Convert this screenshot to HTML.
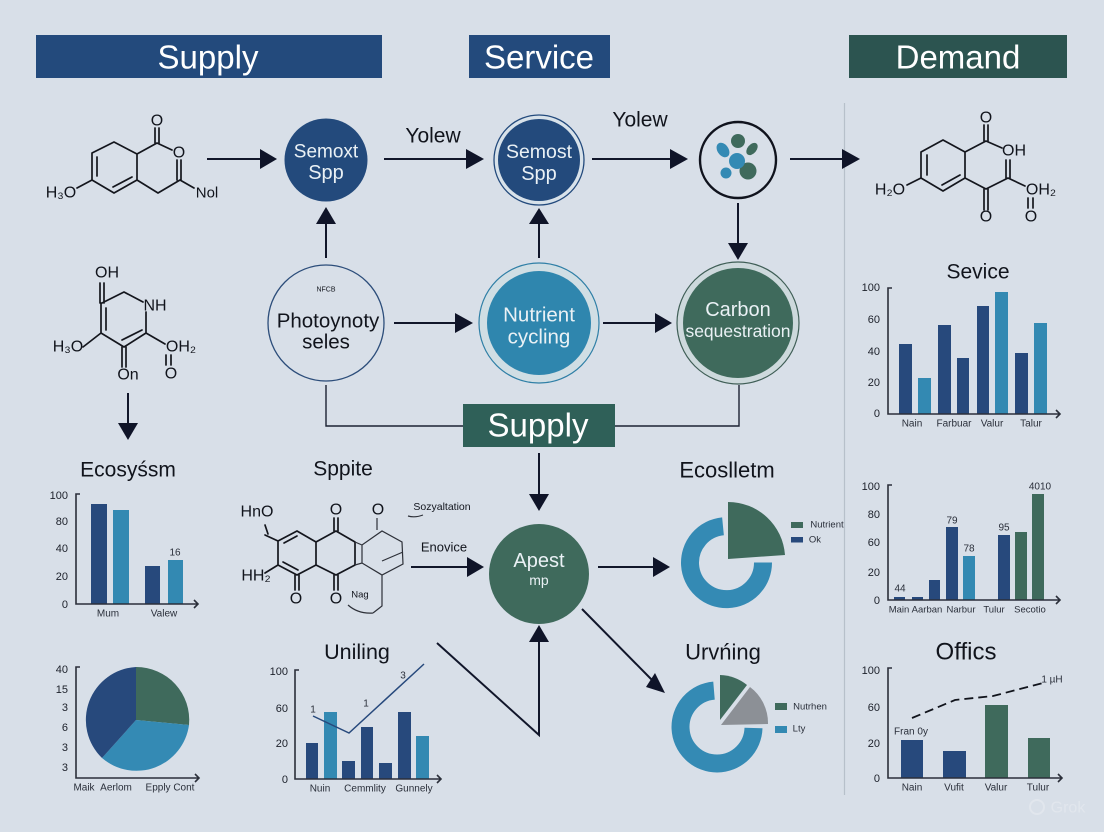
<!DOCTYPE html>
<html><head><meta charset="utf-8"><style>
html,body{margin:0;padding:0;background:#d8dfe8}
svg{display:block}
text{font-family:"Liberation Sans",sans-serif;dominant-baseline:central;text-anchor:middle;fill:#11141c}
.w{fill:#eaf1f5}
.s{font-size:10px;fill:#2a2f3a}
.a{font-size:11px;fill:#1c202a;text-anchor:end}
.m{font-size:16px}
.mol{fill:none;stroke:#14161d;stroke-width:1.7;stroke-linecap:round;stroke-linejoin:round}
.ax{fill:none;stroke:#2b2f3a;stroke-width:1.6}
.c{stroke:#11162a;stroke-width:2;fill:none}
.h{fill:#0f1428}
.d{fill:#27497c}.l{fill:#3389b2}.g{fill:#3f6a5c}
</style></head><body>
<svg width="1104" height="832" viewBox="0 0 1104 832" xmlns="http://www.w3.org/2000/svg">
<rect width="1104" height="832" fill="#d8dfe8"/>
<line x1="844.5" y1="103" x2="844.5" y2="795" stroke="#b7c0ca" stroke-width="1.2"/>

<!-- headers -->
<rect x="36" y="35" width="346" height="43" fill="#234a7c"/>
<text x="208" y="57" style="font-size:33px;fill:#fff">Supply</text>
<rect x="469" y="35" width="141" height="43" fill="#234a7c"/>
<text x="539" y="57" style="font-size:33px;fill:#fff">Service</text>
<rect x="849" y="35" width="218" height="43" fill="#2c5450"/>
<text x="958" y="57" style="font-size:33px;fill:#fff">Demand</text>

<!-- molecule 1 -->
<path class="mol" d="M92 153L114 142L137 154V180L114 193L92 180ZM97 157V176M113 187L132 177M137 154L157 143L172 150M155 143V128M159 143V128M177 160V180M181 160V180M180 180L158 193L137 180M180 180L194 188M77 188L92 180"/>
<text x="157" y="121" class="m">O</text><text x="179" y="153" class="m">O</text>
<text x="61" y="193" class="m">H₃O</text><text x="207" y="193" class="m" style="font-size:15px">Nol</text>

<!-- molecule 2 -->
<path class="mol" d="M102 303L124 292L143 302M146 312V333L124 347L101 333V303M100 303V283M104 303V283M106 308V330M122 340L142 330M83 347L101 333M122 347V367M126 347V367M146 333L165 344M166 355V365M171 355V365"/>
<text x="107" y="273" class="m">OH</text><text x="155" y="306" class="m">NH</text><text x="68" y="347" class="m">H₃O</text>
<text x="128" y="375" class="m">On</text><text x="181" y="347" class="m">OH₂</text><text x="171" y="374" class="m">O</text>

<!-- molecule 3 -->
<path class="mol" d="M921 152L943 140L965 152V178L943 191L921 178ZM927 155V175M942 185L960 175M965 152L986 141L1002 148M984 141V125M988 141V125M965 178L986 189L1008 178L1025 186M984 189V210M988 189V210M1006 178V160M1010 178V160M907 185L921 178M1028 198V208M1033 198V208"/>
<text x="986" y="118" class="m">O</text><text x="1014" y="151" class="m">OH</text><text x="986" y="217" class="m">O</text>
<text x="1041" y="190" class="m">OH₂</text><text x="1031" y="217" class="m">O</text><text x="890" y="190" class="m">H₂O</text>

<!-- connectors -->
<path class="c" d="M207 159H262"/><polygon class="h" points="260,149 277,159 260,169"/>
<path class="c" d="M384 159H468"/><polygon class="h" points="466,149 484,159 466,169"/>
<path class="c" d="M592 159H672"/><polygon class="h" points="670,149 688,159 670,169"/>
<path class="c" d="M790 159H844"/><polygon class="h" points="842,149 860,159 842,169"/>
<path class="c" d="M326 258V222"/><polygon class="h" points="316,224 326,207 336,224"/>
<path class="c" d="M539 258V222"/><polygon class="h" points="529,224 539,208 549,224"/>
<path class="c" d="M738 203V245"/><polygon class="h" points="728,243 738,260 748,243"/>
<path class="c" d="M394 323H457"/><polygon class="h" points="455,313 473,323 455,333"/>
<path class="c" d="M603 323H657"/><polygon class="h" points="655,313 672,323 655,333"/>
<path class="c" d="M128 393V425"/><polygon class="h" points="118,423 128,440 138,423"/>
<path d="M326 385V426H463M615 426H739V385" fill="none" stroke="#1c2233" stroke-width="1.4"/>
<path class="c" d="M539 453V496"/><polygon class="h" points="529,494 539,511 549,494"/>
<path class="c" d="M411 567H469"/><polygon class="h" points="467,557 484,567 467,577"/>
<path class="c" d="M598 567H655"/><polygon class="h" points="653,557 670,567 653,577"/>
<path class="c" d="M582 609L652 680"/><polygon class="h" points="665,693 655,673 646,687"/>
<path class="c" d="M437 643L539 735V640"/><polygon class="h" points="529,642 539,625 549,642"/>

<text x="433" y="136" style="font-size:21px">Yolew</text>
<text x="640" y="120" style="font-size:21px">Yolew</text>

<!-- nodes -->
<circle cx="326" cy="160" r="41.5" fill="#234a7c"/>
<text x="326" y="152" class="w" style="font-size:19px">Semoxt</text><text x="326" y="173" class="w" style="font-size:20px">Spp</text>
<circle cx="539" cy="160" r="45" fill="#d8e2ea" stroke="#234a7c" stroke-width="1.3"/>
<circle cx="539" cy="160" r="41" fill="#234a7c"/>
<text x="539" y="152" class="w" style="font-size:19.500px">Semost</text><text x="539" y="174" class="w" style="font-size:20px">Spp</text>
<circle cx="738" cy="160" r="38" fill="#d8dfe8" stroke="#10131d" stroke-width="2.4"/>
<circle cx="738" cy="141" r="7" fill="#3f6a5c"/>
<ellipse cx="723" cy="150" rx="5.5" ry="8" fill="#348ab4" transform="rotate(-35 723 150)"/>
<ellipse cx="752" cy="149" rx="4.5" ry="7" fill="#3f6a5c" transform="rotate(40 752 149)"/>
<circle cx="726" cy="173" r="5.5" fill="#348ab4"/>
<circle cx="748" cy="171" r="8.5" fill="#3f6a5c"/>
<circle cx="737" cy="161" r="8" fill="#348ab4"/>

<circle cx="326" cy="323" r="58" fill="none" stroke="#2c4d7a" stroke-width="1.3"/>
<text x="326" y="290" style="font-size:7px">NFCB</text>
<text x="328" y="321" style="font-size:20.5px">Photoynoty</text><text x="326" y="342" style="font-size:20.5px">seles</text>

<circle cx="539" cy="323" r="60" fill="#d0dee4" stroke="#2f7fa6" stroke-width="1.2"/>
<circle cx="539" cy="323" r="52" fill="#2f86ae"/>
<text x="539" y="315" class="w" style="font-size:20.5px">Nutrient</text><text x="539" y="337" class="w" style="font-size:20.5px">cycling</text>

<circle cx="738" cy="323" r="61" fill="#cdd9dc" stroke="#3f5e56" stroke-width="1.2"/>
<circle cx="738" cy="323" r="55" fill="#3f6a5c"/>
<text x="738" y="310" class="w" style="font-size:20px">Carbon</text><text x="738" y="331" class="w" style="font-size:17.5px">sequestration</text>

<rect x="463" y="404" width="152" height="43" fill="#2f6058"/>
<text x="538" y="425" style="font-size:33px;fill:#fff">Supply</text>

<circle cx="539" cy="574" r="50" fill="#3f6a5c"/>
<text x="539" y="561" class="w" style="font-size:20px">Apest</text><text x="539" y="580" class="w" style="font-size:14px">mp</text>

<!-- Sppite molecule -->
<text x="343" y="469" style="font-size:21px">Sppite</text>
<path class="mol" d="M278 541L297 531L316 542V565L297 575L278 565ZM284 543L297 536M283 562L298 570M316 542L336 531L355 542V565L336 575L316 565M334 531V518M338 531V518M295 575V590M299 575V590M334 575V590M338 575V590M265 535L278 541M265 573L278 565M265 525L268 534"/>
<path d="M355 542L362 545L382 531L402 542L403 564L382 575L362 563L355 565M362 545V563M382 561L403 552M382 575V606L373 613M348 605Q358 614 373 613M377 530V518M408 516Q415 518 423 515" fill="none" stroke="#2d3038" stroke-width="1.2"/>
<text x="257" y="512" class="m">HnO</text><text x="256" y="576" class="m">HH₂</text>
<text x="336" y="510" class="m">O</text><text x="378" y="510" class="m">O</text>
<text x="296" y="599" class="m">O</text><text x="336" y="599" class="m">O</text>
<text x="360" y="595" style="font-size:9.5px">Nag</text>
<text x="442" y="507" style="font-size:10.5px">Sozyaltation</text>
<text x="444" y="547" style="font-size:13px">Enovice</text>

<!-- Service chart -->
<text x="978" y="272" style="font-size:21px">Sevice</text>
<rect class="d" x="899" y="344" width="13" height="70"/><rect class="l" x="918" y="378" width="13" height="36"/>
<rect class="d" x="938" y="325" width="13" height="89"/><rect class="d" x="957" y="358" width="12" height="56"/>
<rect class="d" x="977" y="306" width="12" height="108"/><rect class="l" x="995" y="292" width="13" height="122"/>
<rect class="d" x="1015" y="353" width="13" height="61"/><rect class="l" x="1034" y="323" width="13" height="91"/>
<path class="ax" d="M892 288H888V414H1060M1056 410L1060 414L1056 418"/>
<text class="a" x="880" y="288">100</text><text class="a" x="880" y="320">60</text><text class="a" x="880" y="352">40</text><text class="a" x="880" y="383">20</text><text class="a" x="880" y="414">0</text>
<text class="s" x="912" y="424">Nain</text><text class="s" x="954" y="424">Farbuar</text><text class="s" x="992" y="424">Valur</text><text class="s" x="1031" y="424">Talur</text>

<!-- Right chart 2 -->
<rect class="d" x="894" y="597" width="11" height="3"/><rect class="d" x="912" y="597" width="11" height="3"/>
<rect class="d" x="929" y="580" width="11" height="20"/><rect class="d" x="946" y="527" width="12" height="73"/>
<rect class="l" x="963" y="556" width="12" height="44"/><rect class="d" x="998" y="535" width="12" height="65"/>
<rect class="g" x="1015" y="532" width="12" height="68"/><rect class="g" x="1032" y="494" width="12" height="106"/>
<path class="ax" d="M892 485H888V600H1060M1056 596L1060 600L1056 604"/>
<text class="a" x="880" y="487">100</text><text class="a" x="880" y="515">80</text><text class="a" x="880" y="543">60</text><text class="a" x="880" y="573">20</text><text class="a" x="880" y="601">0</text>
<text class="s" x="900" y="589">44</text><text class="s" x="952" y="521">79</text><text class="s" x="969" y="549">78</text><text class="s" x="1004" y="528">95</text><text class="s" x="1040" y="487">4010</text>
<text class="s" x="899" y="610" style="font-size:9.5px">Main</text><text class="s" x="927" y="610" style="font-size:9.5px">Aarban</text><text class="s" x="961" y="610" style="font-size:9.5px">Narbur</text><text class="s" x="994" y="610" style="font-size:9.5px">Tulur</text><text class="s" x="1030" y="610" style="font-size:9.5px">Secotio</text>

<!-- Offics -->
<text x="966" y="652" style="font-size:24px">Offics</text>
<rect class="d" x="901" y="740" width="22" height="38"/><rect class="d" x="943" y="751" width="23" height="27"/>
<rect class="g" x="985" y="705" width="23" height="73"/><rect class="g" x="1028" y="738" width="22" height="40"/>
<path class="ax" d="M892 668H888V778H1062M1058 774L1062 778L1058 782"/>
<path d="M912 718L955 700L993 696L1043 683" fill="none" stroke="#11141c" stroke-width="1.8" stroke-dasharray="9 5"/>
<text class="a" x="880" y="671">100</text><text class="a" x="880" y="708">60</text><text class="a" x="880" y="744">20</text><text class="a" x="880" y="779">0</text>
<text class="s" x="911" y="732">Fran 0y</text><text class="s" x="1052" y="680">1 µH</text>
<text class="s" x="912" y="788">Nain</text><text class="s" x="954" y="788">Vufit</text><text class="s" x="996" y="788">Valur</text><text class="s" x="1038" y="788">Tulur</text>

<!-- Left chart -->
<text x="128" y="470" style="font-size:21px">Ecosyśsm</text>
<rect class="d" x="91" y="504" width="16" height="100"/><rect class="l" x="113" y="510" width="16" height="94"/>
<rect class="d" x="145" y="566" width="15" height="38"/><rect class="l" x="168" y="560" width="15" height="44"/>
<path class="ax" d="M80 494H76V604H198M194 600L198 604L194 608"/>
<text class="a" x="68" y="496">100</text><text class="a" x="68" y="522">80</text><text class="a" x="68" y="549">40</text><text class="a" x="68" y="577">20</text><text class="a" x="68" y="605">0</text>
<text class="s" x="175" y="553">16</text><text class="s" x="108" y="614">Mum</text><text class="s" x="164" y="614">Valew</text>

<!-- Left pie -->
<path d="M136 720V667A53 53 0 0 1 189 725Z" class="g"/>
<path d="M136 720L189 725A53 53 0 0 1 102 758Z" fill="#348ab4"/>
<path d="M136 720L102 758A53 53 0 0 1 136 667Z" class="d"/>
<path class="ax" d="M80 667H76V778H199M195 774L199 778L195 782"/>
<text class="a" x="68" y="670">40</text><text class="a" x="68" y="690">15</text><text class="a" x="68" y="708">3</text><text class="a" x="68" y="728">6</text><text class="a" x="68" y="748">3</text><text class="a" x="68" y="768">3</text>
<text class="s" x="84" y="788">Maik</text><text class="s" x="116" y="788">Aerlom</text><text class="s" x="170" y="788">Epply Cont</text>

<!-- Uniling -->
<text x="357" y="652" style="font-size:21.5px">Uniling</text>
<rect class="d" x="306" y="743" width="12" height="36"/><rect class="l" x="324" y="712" width="13" height="67"/>
<rect class="d" x="342" y="761" width="13" height="18"/><rect class="d" x="361" y="727" width="12" height="52"/>
<rect class="d" x="379" y="763" width="13" height="16"/><rect class="d" x="398" y="712" width="13" height="67"/>
<rect class="l" x="416" y="736" width="13" height="43"/>
<path class="ax" d="M299 670H295V779H441M437 775L441 779L437 783"/>
<path d="M313 716L349 733L424 664" fill="none" stroke="#27497c" stroke-width="1.5"/>
<text class="a" x="288" y="672">100</text><text class="a" x="288" y="709">60</text><text class="a" x="288" y="744">20</text><text class="a" x="288" y="780">0</text>
<text class="s" x="313" y="710">1</text><text class="s" x="366" y="704">1</text><text class="s" x="403" y="676">3</text>
<text class="s" x="320" y="789">Nuin</text><text class="s" x="365" y="789">Cemmlity</text><text class="s" x="414" y="789">Gunnely</text>

<!-- Ecosl donut -->
<text x="727" y="470" style="font-size:22px">Ecoslletm</text>
<path d="M763 562.5A36.5 36.5 0 1 1 723 526.3" fill="none" stroke="#348ab4" stroke-width="18"/>
<path d="M728 559V502A57 57 0 0 1 785 555Z" class="g"/>
<rect class="g" x="791" y="522" width="12" height="6"/><text class="s" x="827" y="525" style="font-size:9.5px">Nutrient</text>
<rect class="d" x="791" y="537" width="12" height="5.5"/><text class="s" x="815" y="540" style="font-size:9.5px">Ok</text>

<!-- Urvning donut -->
<text x="723" y="652" style="font-size:22px">Urvńing</text>
<path d="M753.5 728A36.5 36.5 0 1 1 714 690.6" fill="none" stroke="#348ab4" stroke-width="18"/>
<path d="M720 720V675A45 45 0 0 1 747 685Z" class="g"/>
<path d="M721 725L750 687A45 45 0 0 1 768 724Z" fill="#8c9096"/>
<rect class="g" x="775" y="703" width="12" height="7"/><text class="s" x="810" y="707" style="font-size:9.5px">Nutrhen</text>
<rect class="l" x="775" y="726" width="12" height="7"/><text class="s" x="799" y="729" style="font-size:9.5px">Lty</text>

<text x="1068" y="808" style="font-size:16px;fill:#e1e6ed">Grok</text>
<circle cx="1037" cy="807" r="7" fill="none" stroke="#e1e6ed" stroke-width="2"/>
</svg>
</body></html>
